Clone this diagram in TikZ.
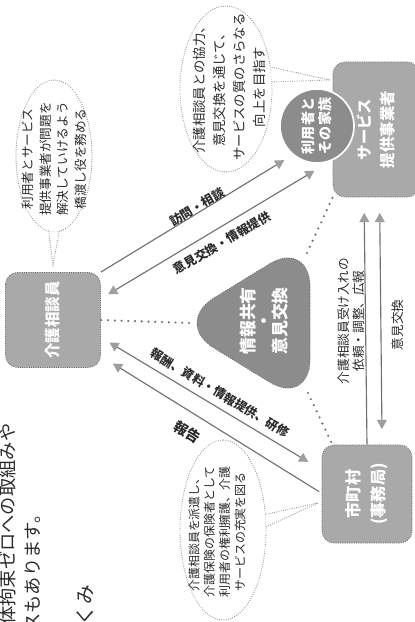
\documentclass[tikz,border=0pt]{standalone}
\usepackage{fontspec}
\setmainfont{Noto Sans CJK JP}
\usepackage{tikz}
\usetikzlibrary{arrows.meta}
\definecolor{BoxGray}{HTML}{A9A9A9}
\definecolor{CoreGray}{HTML}{8C8C8C}
\definecolor{LineGray}{HTML}{6F6F6F}
\definecolor{TipGray}{HTML}{9E9E9E}
\definecolor{InkGray}{HTML}{2B2B2B}
\definecolor{RimGray}{HTML}{8F8F8F}

\begin{document}
\begin{tikzpicture}[x=0.025cm,y=0.025cm,
  actor/.style={rectangle,rounded corners=0.3cm,fill=BoxGray,draw=LineGray,densely dotted,line width=0.6pt,text=white,align=center,inner sep=0pt,font=\bfseries\fontsize{11}{16}\selectfont},
  flow/.style={LineGray,line width=0.8pt,>={Triangle[width=7pt,length=6.5pt,color=TipGray]}},
  link/.style={LineGray,line width=1.7pt,line cap=round,dash pattern=on 0pt off 4.8pt},
  bubble/.style={draw=RimGray,fill=white,densely dotted,line width=0.6pt},
  bubbletext/.style={text=InkGray,align=center,inner sep=0pt},
  flowlabel/.style={text=InkGray,inner sep=0pt,font=\bfseries\fontsize{8.7}{10}\selectfont},
  pagetext/.style={text=InkGray,inner sep=0pt,font=\fontsize{13}{15}\selectfont}]
\useasboundingbox (0,0) rectangle (414,622);
\begin{scope}[shift={(414,0)},rotate=90,transform shape]
\node[pagetext,anchor=west] (pageA) at (-3,406) {体拘束ゼロへの取組みや};
\node[pagetext,anchor=west] (pageB) at (-10,381) {スもあります。};
\node[pagetext,anchor=east,font=\fontsize{14}{16}\selectfont] (pageC) at (37,329) {くみ};

\node[actor,minimum width=2.375cm,minimum height=2.375cm] (kaigo) at (302,361) {介護相談員};
\node[actor,minimum width=3.375cm,minimum height=2.15cm] (jigyo) at (492.5,38) {サービス\\提供事業者};
\node[actor,minimum width=2.45cm,minimum height=2.25cm,font=\bfseries\fontsize{11.5}{17.5}\selectfont] (city) at (128,47) {市町村\\(事務局)};
\node[circle,fill=CoreGray,draw=white,line width=1.2pt,minimum size=1.85cm,inner sep=0pt,text=white,align=center,font=\bfseries\fontsize{10}{12}\selectfont] (family) at (496,97) {利用者と\\その家族};

\coordinate (triA) at (299,241);
\coordinate (triL) at (215,104);
\coordinate (triR) at (383,104);
\coordinate (tipA) at (299,225);
\coordinate (tipL) at (229,106);
\coordinate (tipR) at (369,107);
\filldraw[fill=CoreGray,draw=LineGray,densely dotted,line width=0.6pt,rounded corners=1.2cm] (triA) -- (triR) -- (triL) -- cycle;
\node[text=white,align=center,inner sep=0pt,font=\bfseries\fontsize{12}{11.4}\selectfont] (share) at (301,150) {情報共有\\・\\意見交換};

\draw[link] (tipA) -- (kaigo.south);
\draw[link] (tipR) -- (jigyo.north west);
\draw[link] (tipL) -- (city.35);

\draw[flow,->,shorten >=7pt] (kaigo.south east) -- (family.140);
\draw[flow,<->,shorten <=6pt,shorten >=15pt] (kaigo.-66) -- (jigyo.125);
\draw[flow,<->,shorten <=7pt,shorten >=11pt] (kaigo.-110) -- (city.62);
\draw[flow,<-,shorten <=10pt,shorten >=2pt] (kaigo.-127) -- (city.89);
\draw[flow,->,shorten >=11pt] (city.east) -- (jigyo.170);
\draw[flow,<->,shorten <=11pt,shorten >=11pt] (city.-17) -- (jigyo.183);

\node[flowlabel,rotate=-59.5] (visitLbl) at (415,217) {訪問・相談};
\node[flowlabel,rotate=-59.5] (infoLbl) at (379,192) {意見交換・情報提供};
\node[flowlabel,rotate=-121] (supportLbl) at (229,194) {報酬、資料・情報提供、研修};
\node[flowlabel,rotate=-121.5,font=\bfseries\fontsize{10}{11}\selectfont] (reportLbl) at (190,227) {報告};
\node[bubbletext,font=\fontsize{9}{10.5}\selectfont] (requestLbl) at (301,63) {介護相談員受け入れの\\依頼・調整、広報};
\node[bubbletext,font=\fontsize{9}{10.5}\selectfont] (opinionLbl) at (297,16) {意見交換};

\draw[bubble] (533,188) ellipse [x radius=83,y radius=46];
\coordinate (tip1) at (542,84);
\coordinate (root1a) at (540,142.2);
\coordinate (root1b) at (555,143.6);
\fill[white] (root1a) -- (tip1) -- (root1b) -- cycle;
\draw[bubble,fill=none] (root1a) -- (tip1) -- (root1b);
\node[bubbletext,font=\fontsize{9.5}{14.2}\selectfont] (bub1) at (535,185) {介護相談員との協力、\\意見交換を通じて、\\サービスの質のさらなる\\向上を目指す};

\draw[bubble] (466,360) ellipse [x radius=76,y radius=38];
\coordinate (tip2) at (357,361);
\coordinate (root2a) at (390.7,365.3);
\coordinate (root2b) at (390.7,354.7);
\fill[white] (root2a) -- (tip2) -- (root2b) -- cycle;
\draw[bubble,fill=none] (root2a) -- (tip2) -- (root2b);
\node[bubbletext,font=\fontsize{9}{12.5}\selectfont] (bub2) at (463,360) {利用者とサービス\\提供事業者が問題を\\解決していけるよう\\橋渡し役を務める};

\draw[bubble] (92,191) ellipse [x radius=90,y radius=43];
\coordinate (tip3) at (119,96);
\coordinate (root3a) at (95.1,148);
\coordinate (root3b) at (107.6,148.7);
\fill[white] (root3a) -- (tip3) -- (root3b) -- cycle;
\draw[bubble,fill=none] (root3a) -- (tip3) -- (root3b);
\node[bubbletext,font=\fontsize{8.5}{10.9}\selectfont] (bub3) at (90,197) {介護相談員を派遣し、\\介護保険の保険者として\\利用者の権利擁護、介護\\サービスの充実を図る};
\end{scope}
\end{tikzpicture}
\end{document}
